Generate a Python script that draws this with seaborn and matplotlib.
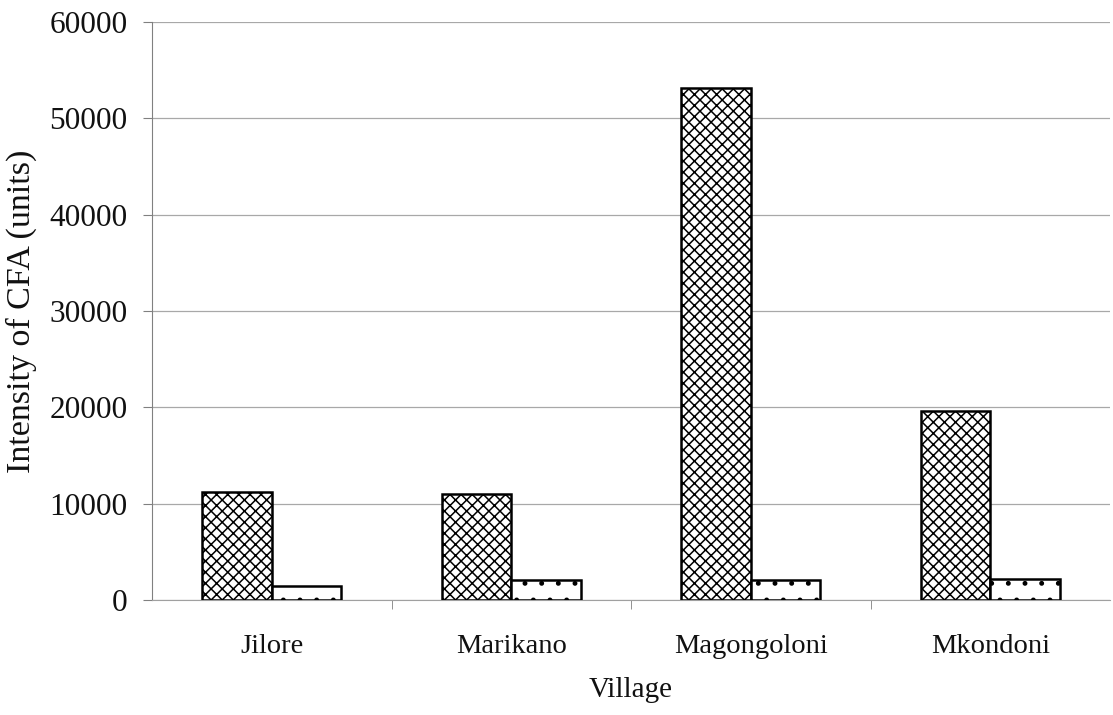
import matplotlib
matplotlib.use("Agg")
import matplotlib.pyplot as plt
import seaborn as sns
import pandas as pd
from matplotlib.ticker import FixedLocator

# DATA
villages = ["Jilore", "Marikano", "Magongoloni", "Mkondoni"]
series_1 = [11200, 11000, 53100, 19600]
series_2 = [1500, 2100, 2100, 2200]
series_names = ["Series 1", "Series 2"]

df = pd.DataFrame({
    "Village": villages * 2,
    "Value": series_1 + series_2,
    "Series": [series_names[0]] * 4 + [series_names[1]] * 4,
})

sns.set_style("white")
plt.rcParams["font.family"] = ["Liberation Serif", "DejaVu Serif"]
plt.rcParams["hatch.linewidth"] = 1.1
plt.rcParams["hatch.color"] = "#202020"

fig = plt.figure(figsize=(11.13, 7.15), dpi=100)
ax = fig.add_axes([152 / 1113, 1 - 600 / 715, 958 / 1113, 578 / 715])

sns.barplot(data=df, x="Village", y="Value", hue="Series", order=villages,
            hue_order=series_names, palette=["white", "white"], width=0.58,
            edgecolor="black", linewidth=1.8, legend=False, ax=ax, zorder=3)

# PATTERNS
hatches = ["xxx", "."]
for cont, h in zip(ax.containers, hatches):
    for bar in cont:
        bar.set_hatch(h)

ax.set_ylim(0, 60000)
ax.set_xlim(-0.5, 3.5)
ax.set_yticks(range(0, 60001, 10000))
ax.yaxis.grid(True, color="#a8a8a8", linewidth=0.9, zorder=0)
ax.set_axisbelow(True)

for side in ["top", "right"]:
    ax.spines[side].set_visible(False)
ax.spines["left"].set_color("#808080")
ax.spines["bottom"].set_color("#a0a0a0")

txt = "#111111"
ax.tick_params(axis="y", which="major", left=True, length=6.5, color="#808080",
               labelsize=22.5, pad=11, labelcolor=txt)
ax.tick_params(axis="x", which="major", bottom=False, labelsize=20.5, pad=21,
               labelcolor=txt)
ax.xaxis.set_minor_locator(FixedLocator([0.5, 1.5, 2.5]))
ax.tick_params(axis="x", which="minor", bottom=True, length=6.5, color="#808080",
               direction="out")

ax.set_xlabel("Village", fontsize=21, labelpad=13, color=txt)
ax.set_ylabel("Intensity of CFA (units)", fontsize=24.5, labelpad=9, color=txt)

fig.savefig("out.png", dpi=100)
